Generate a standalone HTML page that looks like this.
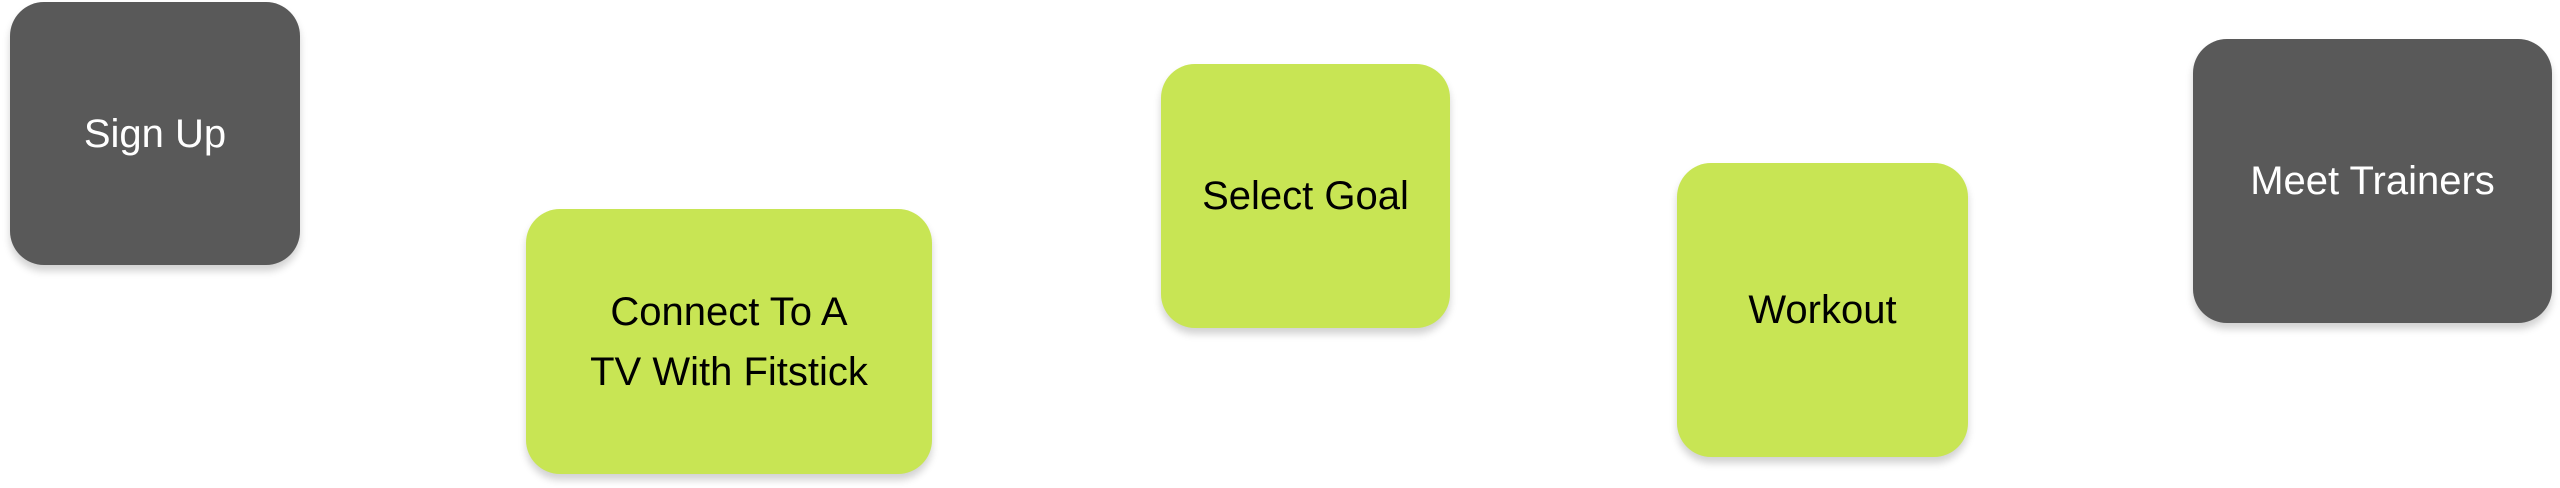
<!DOCTYPE html>
<html><head><meta charset="utf-8"><style>
html,body{margin:0;padding:0;background:#fff;width:2560px;height:488px;overflow:hidden;position:relative}
.b{position:absolute;border-radius:34px;display:flex;align-items:center;justify-content:center;text-align:center;font-family:"Liberation Sans",sans-serif;font-size:40px;line-height:60px;box-shadow:0 6px 8px rgba(0,0,0,0.18)}
.g{background:#595959;color:#fff}
.l{background:#c8e554;color:#000}
</style></head><body>
<div class="b g" style="left:10px;top:2px;width:290px;height:263px">Sign Up</div>
<div class="b l" style="left:526px;top:209px;width:406px;height:265px">Connect To A<br>TV With Fitstick</div>
<div class="b l" style="left:1161px;top:64px;width:289px;height:264px">Select Goal</div>
<div class="b l" style="left:1677px;top:163px;width:291px;height:294px">Workout</div>
<div class="b g" style="left:2193px;top:39px;width:359px;height:284px">Meet Trainers</div>
</body></html>
